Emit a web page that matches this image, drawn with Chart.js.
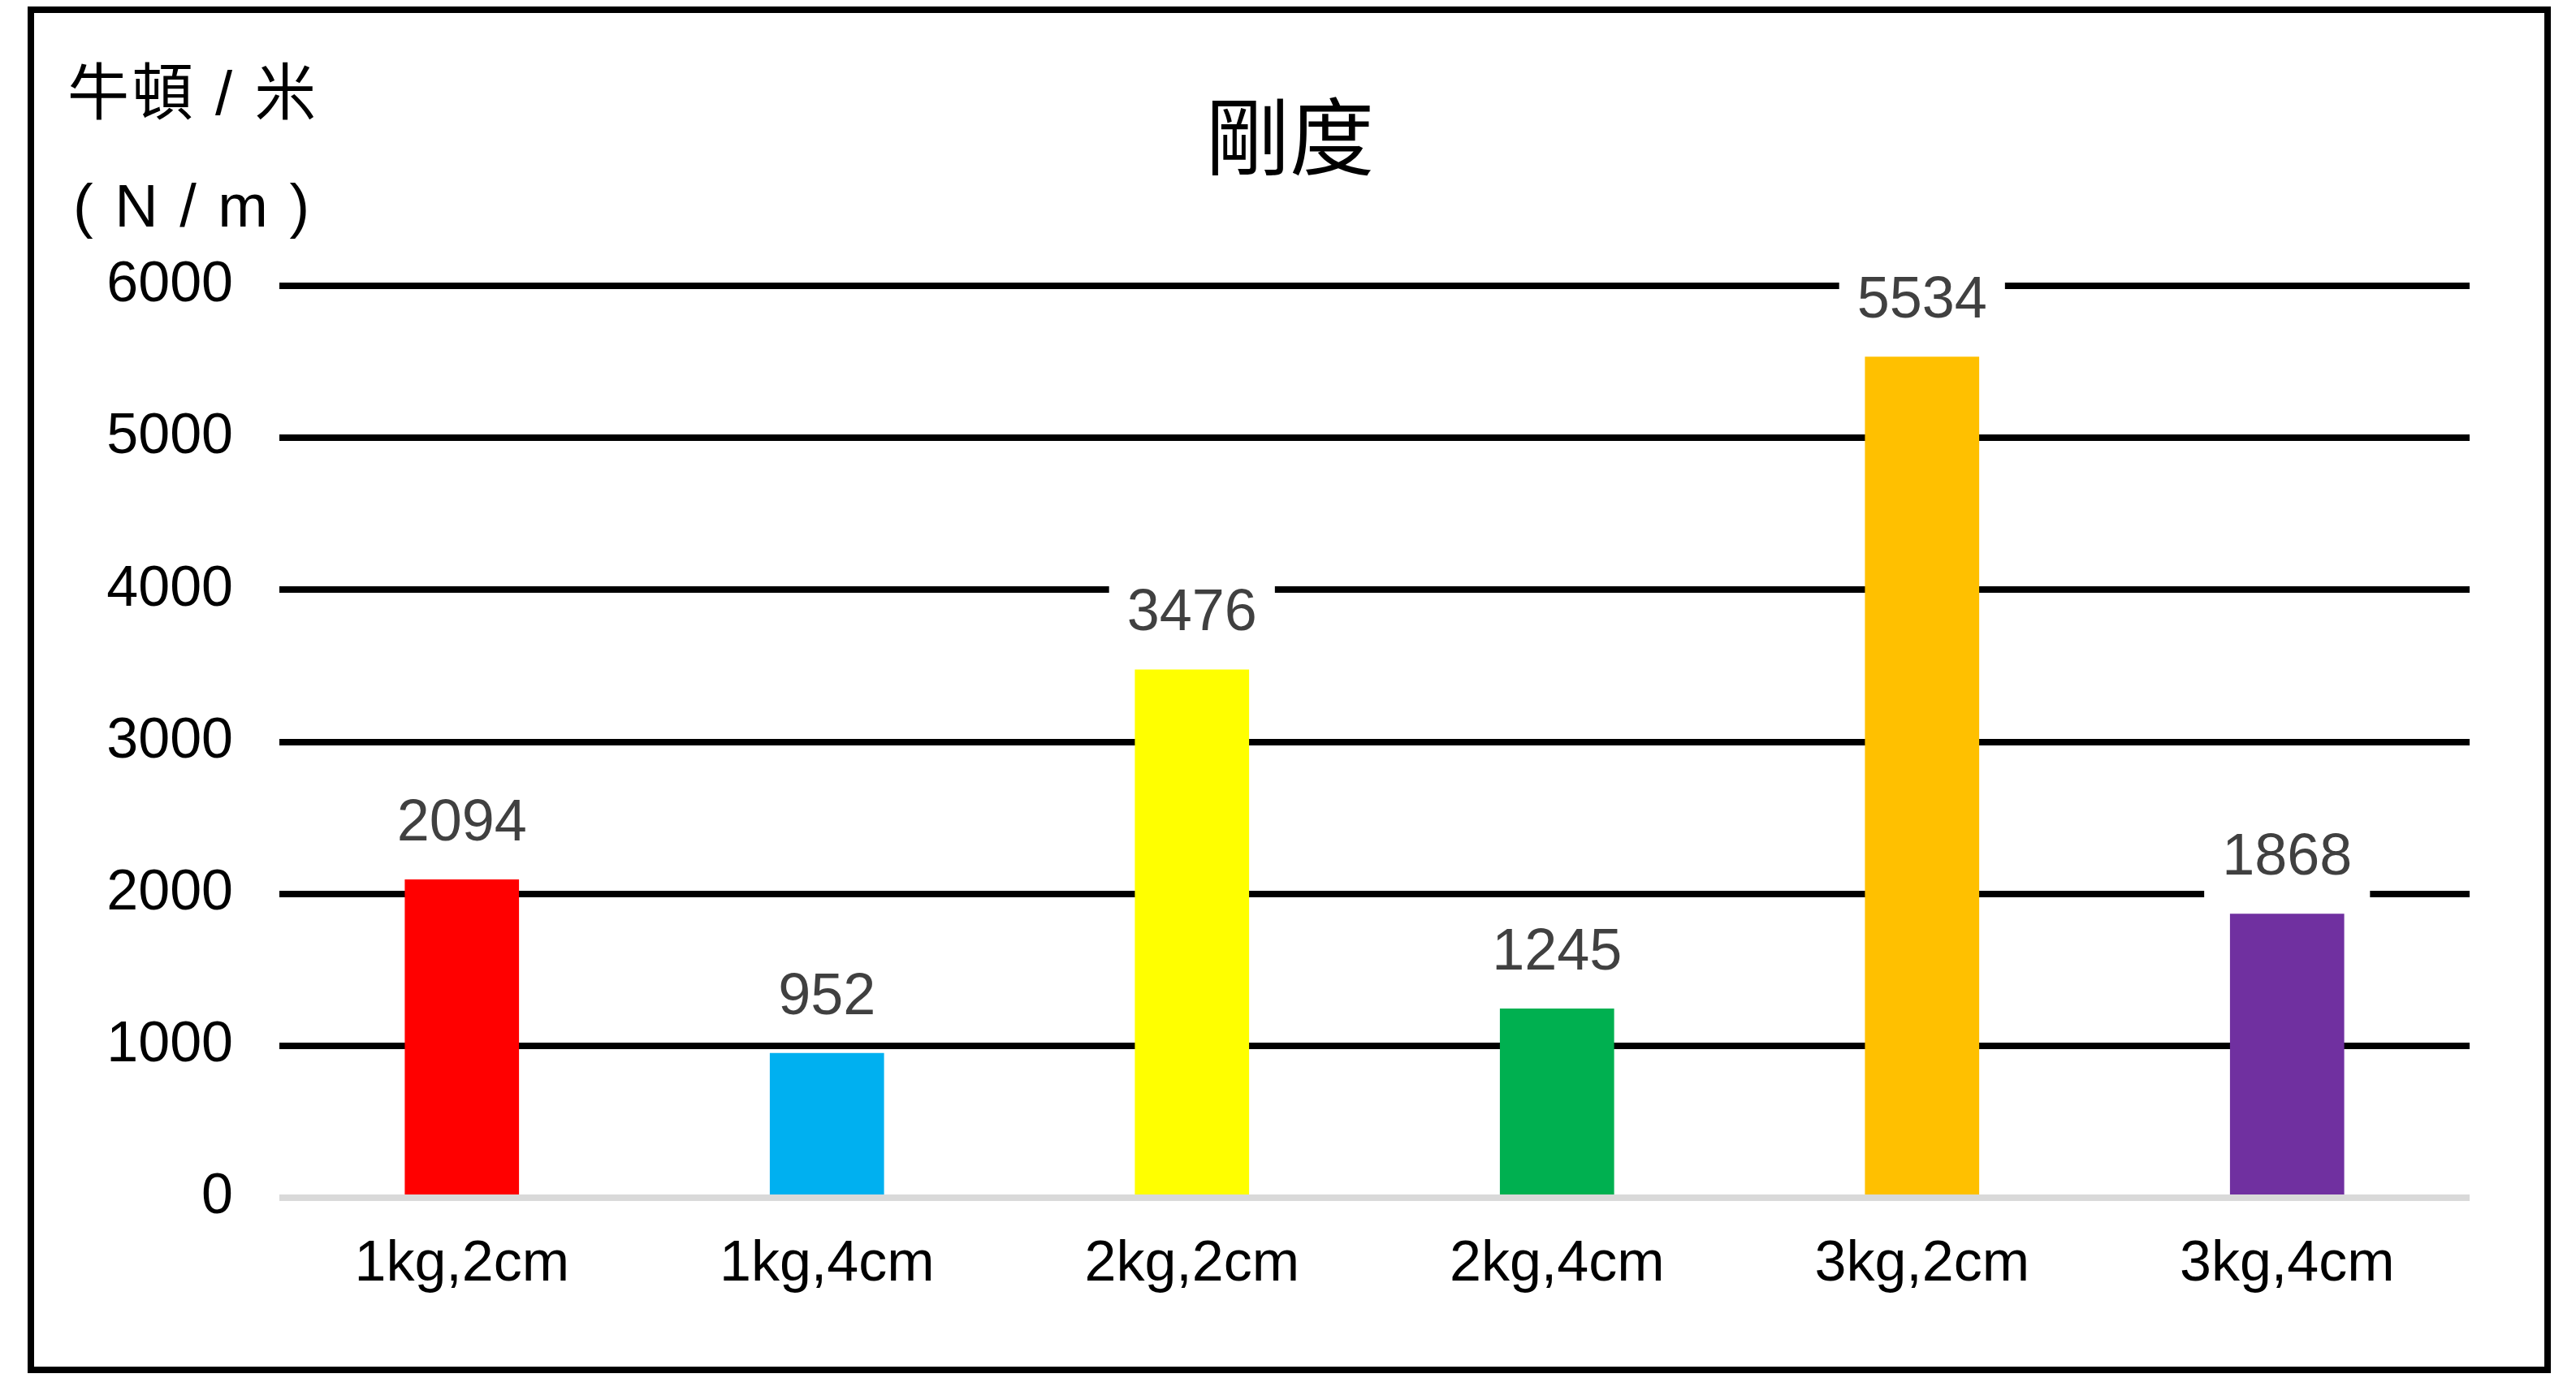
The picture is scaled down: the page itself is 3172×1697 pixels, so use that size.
<!DOCTYPE html>
<html>
<head>
<meta charset="utf-8">
<script src="https://cdn.jsdelivr.net/npm/chart.js@4"></script>
<style>
  html, body { margin: 0; padding: 0; background: #fff; }
  canvas { display: block; }
</style>
</head>
<body>
<canvas id="chart" width="3172" height="1697"></canvas>
<script>
// Stiffness of each mass / spring-stretch combination
const categories = ['1kg,2cm', '1kg,4cm', '2kg,2cm', '2kg,4cm', '3kg,2cm', '3kg,4cm'];
const stiffness  = [2094, 952, 3476, 1245, 5534, 1868];
const barColors  = ['#FF0000', '#00B0F0', '#FFFF00', '#00B050', '#FFC000', '#7030A0'];
const yTicks     = [0, 1000, 2000, 3000, 4000, 5000, 6000];
const chartTitle = '剛度';
const unitLines  = ['牛頓 / 米', '( N / m )'];

const LATIN = '"Liberation Sans", Arial, sans-serif';
const CJK = '"Liberation Sans", "Noto Sans CJK TC", sans-serif';

// White page, outer frame, title and unit caption
const frame = {
  id: 'frame',
  beforeDraw(chart) {
    const ctx = chart.ctx;
    ctx.save();
    ctx.fillStyle = '#fff';
    ctx.fillRect(0, 0, chart.width, chart.height);
    ctx.restore();
  },
  afterDraw(chart) {
    const ctx = chart.ctx;
    ctx.save();
    ctx.strokeStyle = '#000';
    ctx.lineWidth = 8;
    ctx.strokeRect(38, 12, 3099, 1675);

    ctx.fillStyle = '#000';
    ctx.textBaseline = 'middle';
    ctx.textAlign = 'center';
    ctx.font = '104px "Noto Sans CJK TC", sans-serif';
    ctx.fillText(chartTitle, 1588, 168);

    ctx.textAlign = 'left';
    ctx.font = '76px ' + CJK;
    ctx.letterSpacing = '3px';
    ctx.fillText(unitLines[0], 83, 120);
    ctx.font = '74px ' + LATIN;
    ctx.fillText(unitLines[1], 90, 259);
    ctx.restore();
  }
};

// Value above each bar, on a white patch that breaks the gridline
const valueLabels = {
  id: 'valueLabels',
  afterDatasetsDraw(chart) {
    const ctx = chart.ctx;
    const meta = chart.getDatasetMeta(0);
    ctx.save();
    ctx.font = '72px ' + LATIN;
    ctx.textAlign = 'center';
    ctx.textBaseline = 'middle';
    meta.data.forEach((bar, i) => {
      const txt = String(stiffness[i]);
      const w = ctx.measureText(txt).width + 44;
      const y = bar.y - 68;
      ctx.fillStyle = '#fff';
      ctx.fillRect(bar.x - w / 2, y - 46, w, 98);
      ctx.fillStyle = '#404040';
      ctx.fillText(txt, bar.x, y);
    });
    ctx.restore();
  }
};

new Chart(document.getElementById('chart'), {
  type: 'bar',
  data: {
    labels: categories,
    datasets: [{
      data: stiffness,
      backgroundColor: barColors,
      borderWidth: 0,
      categoryPercentage: 1,
      barPercentage: 0.313
    }]
  },
  options: {
    responsive: false,
    devicePixelRatio: 1,
    animation: false,
    layout: { padding: { left: 0, top: 352, right: 131, bottom: 72 } },
    plugins: {
      legend: { display: false },
      tooltip: { enabled: false },
      title: { display: false }
    },
    scales: {
      x: {
        grid: { display: false, drawTicks: false },
        border: { display: false },
        ticks: { color: '#000', font: { family: LATIN, size: 70 }, padding: 41, maxRotation: 0 },
        afterFit(scale) { scale.height = 150; }
      },
      y: {
        min: 0,
        max: 6000,
        afterBuildTicks(scale) { scale.ticks = yTicks.map(v => ({ value: v })); },
        grid: {
          drawTicks: false,
          lineWidth: 8,
          color: ctx => (ctx.tick && ctx.tick.value === 0 ? '#D9D9D9' : '#000')
        },
        border: { display: false },
        ticks: {
          color: '#000',
          font: { family: LATIN, size: 70 },
          padding: 57,
          callback: v => String(v)
        },
        afterFit(scale) { scale.width = 344; }
      }
    }
  },
  plugins: [frame, valueLabels]
});
</script>
</body>
</html>
